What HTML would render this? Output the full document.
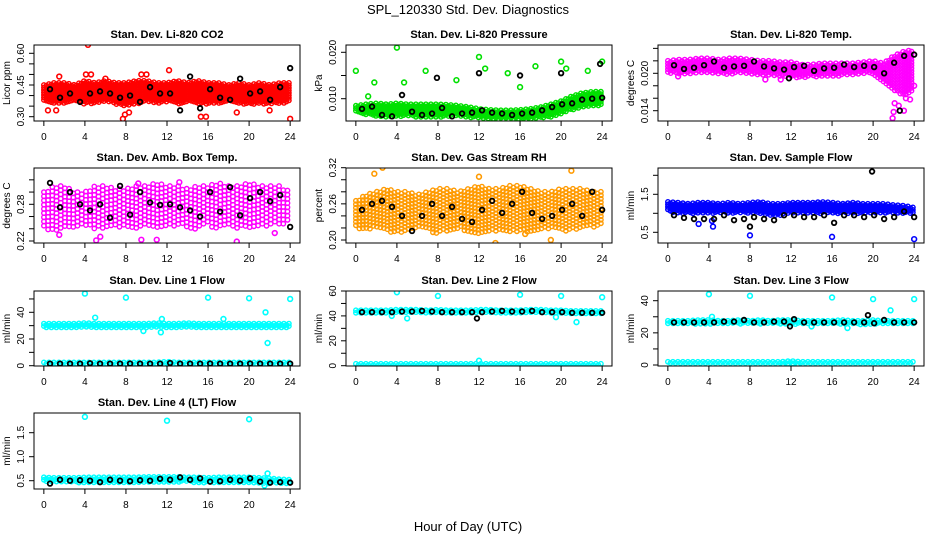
<!DOCTYPE html>
<html><head><meta charset="utf-8"><style>
body{margin:0;background:#fff;}
svg{display:block;font-family:"Liberation Sans",Arial,sans-serif;}
</style></head><body>
<svg id="c" width="936" height="540" xmlns="http://www.w3.org/2000/svg">
<rect width="936" height="540" fill="#fff"/>
<text x="468" y="14" text-anchor="middle" font-size="13">SPL_120330  Std. Dev. Diagnostics</text>
<text x="468" y="531" text-anchor="middle" font-size="13">Hour of Day (UTC)</text>
</svg>
<script>
// ---- data arrays (hourly band limits 0..24, outliers [hour,value], black points) ----
const co2Lo=[0.37,0.36,0.36,0.37,0.36,0.36,0.37,0.36,0.35,0.36,0.37,0.36,0.37,0.36,0.37,0.36,0.36,0.36,0.37,0.36,0.36,0.36,0.36,0.36,0.37];
const co2Hi=[0.45,0.46,0.46,0.45,0.47,0.46,0.47,0.46,0.46,0.47,0.47,0.46,0.46,0.47,0.46,0.47,0.46,0.46,0.45,0.46,0.45,0.46,0.45,0.46,0.46];
const co2Out=[[0.4,0.33],[1.2,0.33],[4.3,0.64],[4.1,0.50],[4.6,0.50],[7.7,0.29],[7.9,0.31],[8.3,0.32],[9.5,0.50],[10,0.50],[12.2,0.52],[15.3,0.30],[15.8,0.30],[18.8,0.32],[22,0.33],[24,0.29],[1.5,0.49],[6,0.48]];
const co2Black=[0.43,0.39,0.41,0.37,0.41,0.42,0.41,0.39,0.40,0.37,0.44,0.41,0.41,0.33,0.49,0.34,0.43,0.39,0.38,0.48,0.41,0.42,0.38,0.44,0.53];
const co2BlackOut=[];

const presLo=[0.007,0.0065,0.0062,0.006,0.006,0.0062,0.006,0.006,0.006,0.0062,0.0062,0.006,0.0058,0.0056,0.0055,0.0055,0.0055,0.0056,0.0058,0.006,0.0068,0.0075,0.008,0.0083,0.0085];
const presHi=[0.0085,0.0088,0.009,0.0088,0.009,0.0088,0.0088,0.0088,0.0088,0.0087,0.0085,0.0082,0.0078,0.0076,0.0075,0.0075,0.0076,0.0078,0.0082,0.0088,0.0095,0.0105,0.0112,0.0115,0.0115];
const presOut=[[0,0.016],[4,0.021],[1.8,0.0135],[6.8,0.016],[4.7,0.0135],[9.8,0.014],[12,0.019],[12.6,0.0165],[14.8,0.0155],[16,0.0125],[17.5,0.017],[20,0.018],[20.5,0.0165],[22.6,0.016],[24,0.018],[1.2,0.0105]];
const presBlack=[0.0078,0.0083,0.0065,0.0062,0.0108,0.0072,0.0065,0.0068,0.0080,0.0062,0.0068,0.0070,0.0075,0.0070,0.0068,0.0065,0.0068,0.0070,0.0075,0.0082,0.0088,0.0090,0.0098,0.0100,0.0102];
const presBlackOut=[[7.9,0.0145],[12,0.0155],[16,0.015],[20,0.0155],[23.8,0.0175]];

const ltLo=[0.0200,0.0198,0.0198,0.0200,0.0200,0.0198,0.0198,0.0200,0.0198,0.0196,0.0196,0.0194,0.0194,0.0192,0.0194,0.0194,0.0194,0.0196,0.0198,0.0200,0.0198,0.0185,0.0170,0.0165,0.0170];
const ltHi=[0.0220,0.0222,0.0222,0.0224,0.0224,0.0222,0.0224,0.0224,0.0222,0.0220,0.0220,0.0218,0.0218,0.0214,0.0214,0.0216,0.0216,0.0216,0.0216,0.0218,0.0220,0.0216,0.0228,0.0235,0.0238];
const ltOut=[[21.9,0.0128],[22,0.0138],[22.1,0.0152],[22.5,0.0148],[23,0.0140],[23.2,0.0160],[23.6,0.0158],[24,0.0180],[1,0.0195],[9.5,0.019],[11,0.019]];
const ltBlack=[0.0213,0.0207,0.0209,0.0213,0.0219,0.0209,0.0211,0.0212,0.0219,0.0211,0.0208,0.0206,0.0210,0.0212,0.0204,0.0208,0.0209,0.0214,0.0210,0.0212,0.0210,0.0200,0.0217,0.0228,0.0230];
const ltBlackOut=[[11.8,0.0192],[22.6,0.0140]];

const ambLo=[0.24,0.235,0.24,0.24,0.245,0.24,0.24,0.24,0.24,0.24,0.245,0.24,0.24,0.245,0.24,0.24,0.245,0.24,0.245,0.24,0.24,0.24,0.245,0.245,0.25];
const ambHi=[0.30,0.31,0.31,0.30,0.30,0.31,0.31,0.305,0.305,0.31,0.31,0.315,0.31,0.31,0.305,0.31,0.31,0.315,0.31,0.31,0.315,0.31,0.31,0.31,0.30];
const ambOut=[[5.1,0.221],[5.5,0.227],[9.5,0.222],[11,0.222],[18.8,0.219],[1.5,0.230],[22.5,0.233],[9.2,0.314],[13.2,0.316]];
const ambBlack=[0.315,0.275,0.30,0.28,0.27,0.28,0.258,0.31,0.263,0.30,0.283,0.279,0.28,0.275,0.27,0.26,0.30,0.268,0.308,0.262,0.29,0.30,0.285,0.295,0.243];
const ambBlackOut=[];

const rhLo=[0.22,0.215,0.22,0.215,0.21,0.215,0.22,0.215,0.21,0.215,0.22,0.21,0.21,0.215,0.215,0.21,0.215,0.21,0.215,0.22,0.215,0.215,0.22,0.22,0.225];
const rhHi=[0.265,0.275,0.28,0.285,0.28,0.28,0.275,0.28,0.285,0.285,0.28,0.285,0.29,0.285,0.285,0.29,0.29,0.285,0.28,0.28,0.285,0.285,0.285,0.28,0.28];
const rhOut=[[1.8,0.31],[2.6,0.32],[12,0.305],[13.6,0.195],[21,0.315],[19,0.20],[16.5,0.21]];
const rhBlack=[0.25,0.26,0.265,0.255,0.24,0.215,0.24,0.26,0.24,0.255,0.235,0.23,0.25,0.265,0.245,0.26,0.28,0.245,0.235,0.24,0.25,0.26,0.24,0.28,0.25];
const rhBlackOut=[];

const sfLo=[1.05,1.0,1.0,1.0,1.0,1.0,1.0,1.0,1.0,1.0,0.95,0.95,1.0,1.0,1.0,1.0,1.0,1.0,1.0,1.0,1.0,1.0,1.0,1.0,1.0];
const sfHi=[1.3,1.28,1.25,1.28,1.28,1.25,1.28,1.25,1.28,1.3,1.25,1.25,1.28,1.28,1.28,1.3,1.28,1.25,1.28,1.25,1.25,1.25,1.22,1.2,1.15];
const sfOut=[[8,0.42],[16,0.38],[24,0.32],[4.4,0.65],[3,0.72],[4.3,0.8]];
const sfBlack=[0.95,0.88,0.85,0.85,0.85,0.95,0.82,0.85,0.90,0.85,0.82,0.95,0.95,0.90,0.90,0.95,0.75,0.95,0.95,0.90,0.95,0.85,0.90,1.05,0.90];
const sfBlackOut=[[8,0.65],[19.9,2.1]];

const l1Lo=[28.5,28.5,28.5,28.5,28.5,28.5,28.5,28.5,28.5,28,28.5,28.5,28.5,28.5,28.5,28.5,28.5,28.5,28.5,28.5,28.5,28.5,28.5,28.5,28.5];
const l1Hi=[31.5,31.5,31.5,31.5,32,31.5,31.5,31.5,31.5,31.5,31.5,32,31.5,31.5,32,31.5,31.5,31.5,31.5,31.5,31.5,31.5,31.5,31.5,31.5];
const l1Lo2=[1,1,1,1,1,1,1,1,1,1,1,1,1,1,1,1,1,1,1,1,1,1,1,1,1];
const l1Hi2=[2.5,2.5,2.5,2.5,2.5,2.5,2.5,2.5,2.5,2.5,2.5,2.5,3,2.5,2.5,2.5,2.5,2.5,2.5,2.5,2.5,2.5,2.5,2.5,2.5];
const l1Out=[[4,54],[8,51],[16,51],[20,50.5],[24,50],[5,36],[11.5,35],[11.4,25],[9.7,26],[21.6,40],[21.8,17],[17.5,35]];
const l1Black=[1.5,1.5,1.5,1.5,1.8,1.5,1.5,1.5,1.6,1.5,1.5,1.5,2,1.5,1.5,1.5,1.6,1.5,1.5,1.5,1.6,1.5,1.5,1.5,1.5];
const l1BlackOut=[];

const l2Lo=[42,42,42,42,42.5,42,42,42,42,42,42,42.5,42,42,42,42,42,42,42,42,42,42,41.5,41.5,41.5];
const l2Hi=[44.5,44.5,44.5,44.5,45,45,45,44.5,45,44.5,44.5,44.5,45,45,44.5,44.5,44.5,45,45,44.5,44.5,44,44,44,44];
const l2Lo2=[0,0,0,0,0,0,0,0,0,0,0,0,0,0,0,0,0,0,0,0,0,0,0,0,0];
const l2Hi2=[1.5,1.5,1.5,1.5,1.5,1.5,1.5,1.5,1.5,1.5,1.5,1.5,1.5,1.5,1.5,1.5,1.5,1.5,1.5,1.5,1.5,1.5,1.5,1.5,1.5];
const l2Out=[[4,59],[8,56],[16,57],[20,56],[24,55],[12,4],[21.5,35],[5,38],[19.5,39],[3.5,40]];
const l2Black=[43,43,43,43,43.5,43.5,44,43.5,43,43,43,43,43,43.5,44,43.5,43.5,44,43,43,43,42.5,42.5,42.5,42.5];
const l2BlackOut=[[11.8,38]];

const l3Lo=[25.5,25.5,25.5,25.5,25.5,25.5,25.5,25.5,25.5,25.5,25.5,25.5,25,25.5,25.5,25.5,25.5,25.5,25.5,25,25.5,25.5,25.5,25.5,25.5];
const l3Hi=[27.5,27.5,27.5,28,28,27.5,27.5,28,27.5,28,27.5,28,28,27.5,27.5,27.5,27.5,28,27.5,27.5,28,27.5,27.5,27.5,27.5];
const l3Lo2=[0.5,0.5,0.5,0.5,0.5,0.5,0.5,0.5,0.5,0.5,0.5,0.5,0.5,0.5,0.5,0.5,0.5,0.5,0.5,0.5,0.5,0.5,0.5,0.5,0.5];
const l3Hi2=[2,2,2,2,2,2,2,2,2,2,2,2,2.5,2,2,2,2,2,2,2,2,2,2,2,2];
const l3Out=[[4,44],[8,43],[16,42],[20,41],[24,41],[21.7,34],[14,24],[4.3,30],[17.5,23]];
const l3Black=[26.5,26.5,26.5,26.5,26.5,27,27,28,26.5,26.5,27,27,28.5,26.5,26.5,26.5,26.5,26.5,26.5,26.5,26,28,26.5,26.5,26.5];
const l3BlackOut=[[11.9,24],[19.5,31]];

const l4Lo=[0.47,0.46,0.46,0.46,0.46,0.45,0.46,0.46,0.46,0.46,0.47,0.47,0.47,0.47,0.47,0.46,0.46,0.46,0.46,0.46,0.46,0.45,0.44,0.44,0.43];
const l4Hi=[0.57,0.56,0.56,0.56,0.57,0.57,0.57,0.57,0.57,0.57,0.58,0.58,0.58,0.58,0.57,0.57,0.56,0.57,0.57,0.57,0.57,0.56,0.55,0.53,0.52];
const l4Out=[[4,1.83],[12,1.75],[20,1.78],[21.8,0.65],[21.5,0.40]];
const l4Black=[0.44,0.52,0.50,0.51,0.50,0.47,0.52,0.50,0.49,0.51,0.50,0.54,0.52,0.57,0.52,0.55,0.48,0.49,0.52,0.50,0.55,0.48,0.46,0.47,0.46];
const l4BlackOut=[];

const panels=[
 {id:'co2',title:'Stan. Dev. Li-820 CO2',ylab:'Licor ppm',col:0,row:0,color:'#ff0000',v0:0.30,p0:116.7,v1:0.60,p1:53.3,ticks:[0.30,0.35,0.40,0.45,0.50,0.55,0.60],labs:[0.30,0.45,0.60],dec:2,bands:[[co2Lo,co2Hi]],out:co2Out,black:co2Black,bo:co2BlackOut,sp:2.5},
 {id:'pressure',title:'Stan. Dev. Li-820 Pressure',ylab:'kPa',col:1,row:0,color:'#00e000',v0:0.010,p0:98.7,v1:0.020,p1:52.3,ticks:[0.010,0.015,0.020],labs:[0.010,0.020],dec:3,bands:[[presLo,presHi]],out:presOut,black:presBlack,bo:presBlackOut,sp:2.5},
 {id:'li-temp',title:'Stan. Dev. Li-820 Temp.',ylab:'degrees C',col:2,row:0,color:'#ff00ff',v0:0.014,p0:110.7,v1:0.020,p1:73.3,ticks:[0.014,0.016,0.018,0.020,0.022,0.024],labs:[0.014,0.020],dec:3,bands:[[ltLo,ltHi]],out:ltOut,black:ltBlack,bo:ltBlackOut,sp:2.8},
 {id:'amb-temp',title:'Stan. Dev. Amb. Box Temp.',ylab:'degrees C',col:0,row:1,color:'#ff00ff',v0:0.22,p0:241,v1:0.28,p1:204.3,ticks:[0.22,0.24,0.26,0.28,0.30,0.32],labs:[0.22,0.28],dec:2,bands:[[ambLo,ambHi]],out:ambOut,black:ambBlack,bo:ambBlackOut,sp:4.2},
 {id:'rh',title:'Stan. Dev. Gas Stream RH',ylab:'percent',col:1,row:1,color:'#ff9a00',v0:0.20,p0:240,v1:0.32,p1:167.7,ticks:[0.20,0.22,0.24,0.26,0.28,0.30,0.32],labs:[0.20,0.26,0.32],dec:2,bands:[[rhLo,rhHi]],out:rhOut,black:rhBlack,bo:rhBlackOut,sp:3.5},
 {id:'sample-flow',title:'Stan. Dev. Sample Flow',ylab:'ml/min',col:2,row:1,color:'#0000ff',v0:0.5,p0:232.3,v1:1.5,p1:194.3,ticks:[0.5,1.0,1.5,2.0],labs:[0.5,1.5],dec:1,bands:[[sfLo,sfHi]],out:sfOut,black:sfBlack,bo:sfBlackOut,sp:2.5},
 {id:'line1-flow',title:'Stan. Dev. Line 1 Flow',ylab:'ml/min',col:0,row:2,color:'#00ffff',v0:0,p0:365.7,v1:40,p1:312.3,ticks:[0,10,20,30,40,50],labs:[0,20,40],dec:0,bands:[[l1Lo,l1Hi],[l1Lo2,l1Hi2]],out:l1Out,black:l1Black,bo:l1BlackOut,sp:2.5},
 {id:'line2-flow',title:'Stan. Dev. Line 2 Flow',ylab:'ml/min',col:1,row:2,color:'#00ffff',v0:0,p0:365.7,v1:60,p1:291,ticks:[0,10,20,30,40,50,60],labs:[0,20,40,60],dec:0,bands:[[l2Lo,l2Hi],[l2Lo2,l2Hi2]],out:l2Out,black:l2Black,bo:l2BlackOut,sp:2.5},
 {id:'line3-flow',title:'Stan. Dev. Line 3 Flow',ylab:'ml/min',col:2,row:2,color:'#00ffff',v0:0,p0:365,v1:40,p1:300.7,ticks:[0,10,20,30,40],labs:[0,20,40],dec:0,bands:[[l3Lo,l3Hi],[l3Lo2,l3Hi2]],out:l3Out,black:l3Black,bo:l3BlackOut,sp:2.5},
 {id:'line4-flow',title:'Stan. Dev. Line 4 (LT) Flow',ylab:'ml/min',col:0,row:3,color:'#00ffff',v0:0.5,p0:480.7,v1:1.5,p1:432.7,ticks:[0.5,1.0,1.5],labs:[0.5,1.0,1.5],dec:1,bands:[[l4Lo,l4Hi]],out:l4Out,black:l4Black,bo:l4BlackOut,sp:2.5}
];
const xTicks=[0,4,8,12,16,20,24];

const svg=document.getElementById('c');
const NS='http://www.w3.org/2000/svg';
const colL=[34,346,658], W=266;
const rowT=[45,168,291,413], rowB=[121,243,366,489];
function mk(tag,attrs,parent){const e=document.createElementNS(NS,tag);for(const k in attrs)e.setAttribute(k,attrs[k]);(parent||svg).appendChild(e);return e;}
function interp(arr,h){const i=Math.max(0,Math.min(23,Math.floor(h)));const f=h-i;return arr[i]*(1-f)+arr[i+1]*f;}

panels.forEach(p=>{
  const L=colL[p.col],T=rowT[p.row],B=rowB[p.row];
  const xs=h=>L+(h+0.96)/25.92*W;
  const ys=v=>p.p0+(v-p.v0)*(p.p1-p.p0)/(p.v1-p.v0);
  const g=mk('g',{});
  
  
  const clip=mk('clipPath',{id:'clip-'+p.id},g);
  mk('rect',{x:L,y:T,width:W,height:B-T},clip);
  const t=mk('text',{x:L+W/2,y:T-7,'text-anchor':'middle','font-size':11,'font-weight':'bold'},g);
  t.textContent=p.title;
  
  
  const pts=mk('g',{'clip-path':'url(#clip-'+p.id+')',fill:'none','stroke-width':1.4},g);
  
  
  p.bands.forEach((bd)=>{
    const [lo,hi]=bd; let k=0;
    for(let px=xs(0);px<=xs(24)+0.1;px+=p.sp){
      const h=(px-L)/W*25.92-0.96;
      const yA=ys(interp(hi,h)), yB=ys(interp(lo,h));
      const off=(k%2)*p.sp/2; k++;
      for(let py=Math.min(yA,yB)+off;py<=Math.max(yA,yB)+0.01;py+=p.sp){
        const c=mk('circle',{cx:px.toFixed(1),cy:py.toFixed(1),r:2.2,stroke:p.color},pts);
        
        
      }
    }
  });
  p.out.forEach(o=>{
    const c=mk('circle',{cx:xs(o[0]),cy:ys(o[1]),r:2.4,stroke:p.color,'stroke-width':1.6},pts);
    
    
  });
  p.black.forEach((v,i)=>{
    const c=mk('circle',{cx:xs(0.6+i*23.4/24),cy:ys(v),r:2.3,stroke:'#000','stroke-width':1.8},pts);
    
    
  });
  p.bo.forEach(o=>{
    const c=mk('circle',{cx:xs(o[0]),cy:ys(o[1]),r:2.3,stroke:'#000','stroke-width':1.8},pts);
    
    
  });
  const box=mk('rect',{x:L,y:T,width:W,height:B-T,fill:'none',stroke:'#000','stroke-width':1},g);
  
  
  const xa=mk('g',{stroke:'#000','stroke-width':1},g);
  
  
  mk('line',{x1:xs(0),x2:xs(24),y1:B,y2:B},xa);
  xTicks.forEach(h=>{
    mk('line',{x1:xs(h),x2:xs(h),y1:B,y2:B+5},xa);
    const tx=mk('text',{x:xs(h),y:B+19,'text-anchor':'middle','font-size':10,stroke:'none',fill:'#000'},xa);
    tx.textContent=h;
  });
  const ya=mk('g',{stroke:'#000','stroke-width':1},g);
  
  
  const yt0=ys(p.ticks[0]), yt1=ys(p.ticks[p.ticks.length-1]);
  mk('line',{x1:L,x2:L,y1:Math.max(yt0,yt1),y2:Math.min(yt0,yt1)},ya);
  p.ticks.forEach(v=>{mk('line',{x1:L-5,x2:L,y1:ys(v),y2:ys(v)},ya);});
  p.labs.forEach(v=>{
    const y=ys(v), x=L-10;
    const tx=mk('text',{x:x,y:y,transform:`rotate(-90 ${x} ${y})`,'text-anchor':'middle','font-size':10,stroke:'none',fill:'#000'},ya);
    tx.textContent=v.toFixed(p.dec);
  });
  const yl=L-24, ym=(T+B)/2;
  const lab=mk('text',{x:yl,y:ym,transform:`rotate(-90 ${yl} ${ym})`,'text-anchor':'middle','font-size':10},g);
  lab.textContent=p.ylab;
  
  
});
</script>
</body></html>
